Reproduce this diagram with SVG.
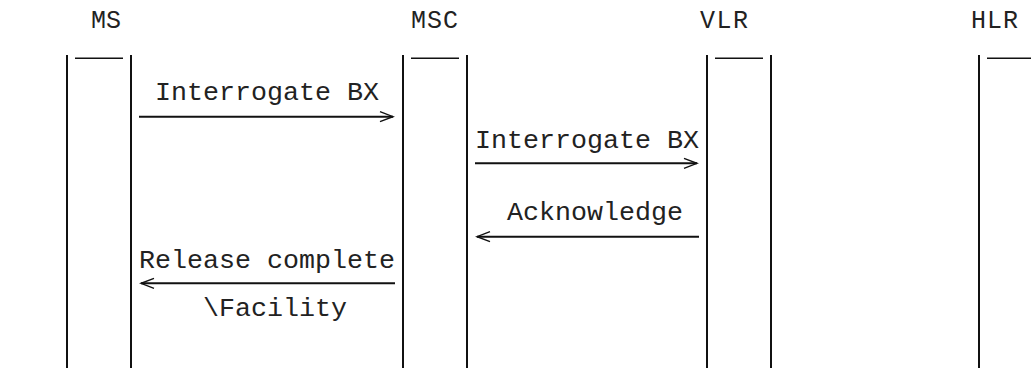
<svg xmlns="http://www.w3.org/2000/svg" width="1031" height="368" viewBox="0 0 1031 368">
  <style>
    .bg { fill: #ffffff; }
    .hdr { font-family: "Liberation Mono", "Courier New", monospace; font-size: 25px; fill: #222; }
    .lbl { font-family: "Liberation Mono", "Courier New", monospace; font-size: 26.67px; fill: #222; }
    .life { stroke: #111; stroke-width: 2; fill: none; }
    .cap { stroke: #111; stroke-width: 1.6; fill: none; }
    .msg { stroke: #111; stroke-width: 2; fill: none; marker-end: url(#chev); }
  </style>
  <defs>
    <marker id="chev" markerUnits="userSpaceOnUse" markerWidth="16" markerHeight="14" refX="14" refY="6" orient="auto">
      <path d="M1,1 L14,6 L1,11" fill="none" stroke="#111" stroke-width="1.4"/>
    </marker>
  </defs>
  <rect class="bg" x="0" y="0" width="1031" height="368"/>

  <g id="node-MS">
    <text class="hdr" x="91" y="28" textLength="30">MS</text>
    <line class="life" x1="67" y1="55" x2="67" y2="368"/>
    <line class="life" x1="131" y1="55" x2="131" y2="368"/>
    <line class="cap" x1="75" y1="58.3" x2="123" y2="58.3"/>
  </g>

  <g id="node-MSC">
    <text class="hdr" x="411" y="28" textLength="47">MSC</text>
    <line class="life" x1="403" y1="55" x2="403" y2="368"/>
    <line class="life" x1="467" y1="55" x2="467" y2="368"/>
    <line class="cap" x1="411" y1="58.3" x2="459" y2="58.3"/>
  </g>

  <g id="node-VLR">
    <text class="hdr" x="700" y="28" textLength="48">VLR</text>
    <line class="life" x1="707" y1="55" x2="707" y2="368"/>
    <line class="life" x1="771" y1="55" x2="771" y2="368"/>
    <line class="cap" x1="715" y1="58.3" x2="763" y2="58.3"/>
  </g>

  <g id="node-HLR">
    <text class="hdr" x="971" y="28" textLength="47">HLR</text>
    <line class="life" x1="979" y1="55" x2="979" y2="368"/>
    <line class="cap" x1="987" y1="58.3" x2="1035" y2="58.3"/>
  </g>

  <g id="connectors">
    <text class="lbl" x="155" y="100">Interrogate BX</text>
    <path class="msg" d="M139,116.7 H393"/>

    <text class="lbl" x="475" y="148">Interrogate BX</text>
    <path class="msg" d="M475,163.3 H697"/>

    <text class="lbl" x="507" y="220">Acknowledge</text>
    <path class="msg" d="M699,236.7 H477"/>

    <text class="lbl" x="139" y="268">Release complete</text>
    <path class="msg" d="M395,283.3 H141"/>
    <text class="lbl" x="203" y="316">\Facility</text>
  </g>
</svg>
